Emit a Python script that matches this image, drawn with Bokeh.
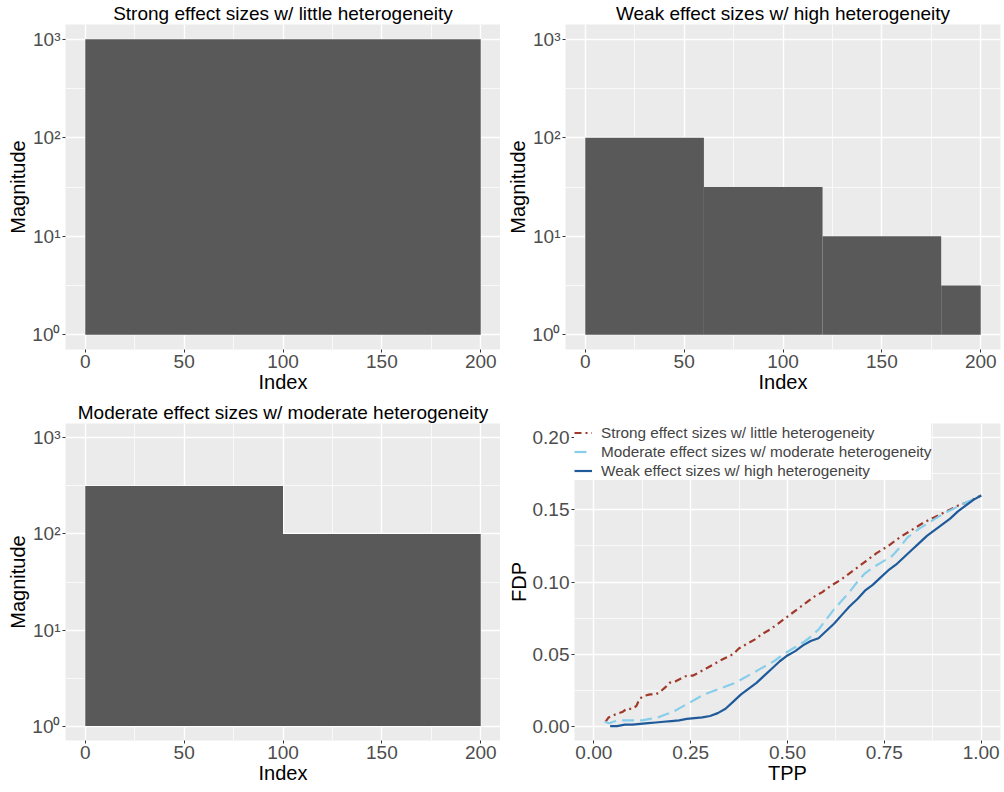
from bokeh.plotting import figure
from bokeh.layouts import column, row
from bokeh.models import Range1d, FixedTicker, ColumnDataSource, NumeralTickFormatter
from bokeh.embed import file_html
from bokeh.resources import INLINE

FONT = "Liberation Sans"
BAR_COLOR = "#595959"
BG = "#EBEBEB"

# ---------------- data ----------------
titles = [
    "Strong effect sizes w/ little heterogeneity",
    "Weak effect sizes w/ high heterogeneity",
    "Moderate effect sizes w/ moderate heterogeneity",
]

strong_left = [0]
strong_right = [200]
strong_mag = [1000]

weak_left = [0, 60, 120, 180]
weak_right = [60, 120, 180, 200]
weak_mag = [100, 31.6, 10, 3.16]

moderate_left = [0, 100]
moderate_right = [100, 200]
moderate_mag = [316, 100]

mag_ticks = [1, 10, 100, 1000]
mag_labels = ["10⁰", "10¹", "10²", "10³"]
index_ticks = [0, 50, 100, 150, 200]

strong_tpp = [0.030, 0.038, 0.046, 0.055, 0.065, 0.075, 0.085, 0.100, 0.110, 0.118,
              0.130, 0.145, 0.160, 0.172, 0.185, 0.195, 0.210, 0.225, 0.240, 0.255,
              0.270, 0.290, 0.310, 0.330, 0.345, 0.360, 0.375, 0.395, 0.415, 0.435,
              0.455, 0.475, 0.500, 0.525, 0.550, 0.570, 0.590, 0.610, 0.640, 0.670,
              0.700, 0.730, 0.760, 0.790, 0.820, 0.850, 0.880, 0.910, 0.940, 0.970, 1.000]
strong_fdp = [0.003, 0.006, 0.007, 0.008, 0.009, 0.010, 0.012, 0.012, 0.014, 0.019,
              0.021, 0.022, 0.022, 0.024, 0.027, 0.030, 0.031, 0.033, 0.035, 0.035,
              0.037, 0.040, 0.043, 0.046, 0.048, 0.050, 0.054, 0.057, 0.060, 0.064,
              0.067, 0.071, 0.076, 0.081, 0.086, 0.090, 0.093, 0.097, 0.102, 0.108,
              0.114, 0.120, 0.125, 0.131, 0.136, 0.141, 0.145, 0.149, 0.153, 0.156, 0.160]

moderate_tpp = [0.028, 0.040, 0.050, 0.065, 0.085, 0.105, 0.125, 0.145, 0.165, 0.185,
                0.205, 0.225, 0.245, 0.265, 0.285, 0.305, 0.325, 0.345, 0.365, 0.385,
                0.405, 0.425, 0.445, 0.465, 0.490, 0.515, 0.540, 0.560, 0.580, 0.600,
                0.620, 0.640, 0.660, 0.680, 0.700, 0.720, 0.745, 0.770, 0.790, 0.810,
                0.840, 0.870, 0.900, 0.930, 0.960, 1.000]
moderate_fdp = [0.003, 0.002, 0.003, 0.004, 0.004, 0.004, 0.004, 0.005, 0.006, 0.008,
                0.010, 0.013, 0.016, 0.019, 0.022, 0.024, 0.026, 0.028, 0.030, 0.033,
                0.036, 0.039, 0.042, 0.045, 0.050, 0.054, 0.058, 0.062, 0.067, 0.074,
                0.081, 0.087, 0.093, 0.100, 0.106, 0.110, 0.114, 0.118, 0.124, 0.131,
                0.137, 0.142, 0.147, 0.151, 0.155, 0.160]

weak_tpp = [0.042, 0.060, 0.080, 0.100, 0.120, 0.140, 0.160, 0.180, 0.200, 0.220,
            0.240, 0.260, 0.280, 0.300, 0.320, 0.340, 0.360, 0.380, 0.400, 0.420,
            0.440, 0.460, 0.480, 0.500, 0.520, 0.540, 0.560, 0.580, 0.600, 0.620,
            0.640, 0.660, 0.680, 0.700, 0.720, 0.740, 0.760, 0.780, 0.800, 0.820,
            0.840, 0.860, 0.880, 0.900, 0.920, 0.940, 0.960, 0.980, 1.000]
weak_fdp = [0.000, 0.000, 0.001, 0.001, 0.0015, 0.002, 0.0025, 0.003, 0.0035, 0.004,
            0.005, 0.0055, 0.006, 0.007, 0.009, 0.012, 0.017, 0.022, 0.026, 0.030,
            0.035, 0.040, 0.045, 0.049, 0.052, 0.056, 0.059, 0.061, 0.066, 0.071,
            0.077, 0.083, 0.088, 0.094, 0.098, 0.103, 0.108, 0.112, 0.117, 0.122,
            0.127, 0.132, 0.136, 0.140, 0.144, 0.149, 0.153, 0.157, 0.160]

tpp_ticks = [0.0, 0.25, 0.5, 0.75, 1.0]
fdp_ticks = [0.0, 0.05, 0.10, 0.15, 0.20]


def style(p, ylabel, xlabel):
    p.background_fill_color = BG
    p.border_fill_color = "white"
    p.outline_line_color = None
    p.title.text_font = FONT
    p.title.text_font_size = "19px"
    p.title.text_font_style = "normal"
    p.title.align = "center"
    p.title.text_color = "black"
    p.title.standoff = 1
    for ax in (p.xaxis, p.yaxis):
        ax.axis_line_color = None
        ax.major_tick_line_color = "#333333"
        ax.major_tick_out = 3
        ax.major_tick_in = 0
        ax.minor_tick_line_color = None
        ax.major_label_text_font = FONT
        ax.major_label_text_font_size = "19px"
        ax.major_label_text_color = "#4D4D4D"
        ax.major_label_standoff = 1
        ax.axis_label_text_font = FONT
        ax.axis_label_text_font_size = "20px"
        ax.axis_label_text_font_style = "normal"
        ax.axis_label_text_color = "black"
        ax.axis_label_standoff = 0
    p.xaxis.axis_label = xlabel
    p.yaxis.axis_label = ylabel
    for g in (p.xgrid, p.ygrid):
        g.grid_line_color = "white"
        g.grid_line_width = 1.4
        g.minor_grid_line_color = "white"
        g.minor_grid_line_width = 0.7


def mag_panel(title, left, right, mag, w, h, top_border, right_border):
    p = figure(width=w, height=h, output_backend="svg",
               toolbar_location=None, y_axis_type="log", x_range=Range1d(-10, 210),
               y_range=Range1d(10 ** -0.15, 10 ** 3.15), title=title,
               min_border_left=65, min_border_right=right_border,
               min_border_top=top_border, min_border_bottom=50)
    style(p, "Magnitude", "Index")
    src = ColumnDataSource(dict(left=left, right=right, top=mag, bottom=[1] * len(mag)))
    p.quad(left="left", right="right", top="top", bottom="bottom", source=src,
           fill_color=BAR_COLOR, line_color=None)
    yt = FixedTicker(ticks=mag_ticks, minor_ticks=[10 ** 0.5, 10 ** 1.5, 10 ** 2.5])
    xt = FixedTicker(ticks=index_ticks, minor_ticks=[25, 75, 125, 175])
    p.yaxis.ticker = yt
    p.ygrid.ticker = yt
    p.xaxis.ticker = xt
    p.xgrid.ticker = xt
    p.yaxis.major_label_overrides = {t: l for t, l in zip(mag_ticks, mag_labels)}
    return p


p1 = mag_panel(titles[0], strong_left, strong_right, strong_mag, 500, 399, 22, 0)
p2 = mag_panel(titles[1], weak_left, weak_right, weak_mag, 502, 399, 22, 2)
p3 = mag_panel(titles[2], moderate_left, moderate_right, moderate_mag, 500, 391, 24, 0)

p4 = figure(width=502, height=391, output_backend="svg", toolbar_location=None,
            x_range=Range1d(-0.05, 1.05), y_range=Range1d(-0.01, 0.21), title="",
            min_border_left=74, min_border_right=2, min_border_top=24, min_border_bottom=50)
style(p4, "FDP", "TPP")
xt4 = FixedTicker(ticks=tpp_ticks, minor_ticks=[0.125, 0.375, 0.625, 0.875])
yt4 = FixedTicker(ticks=fdp_ticks, minor_ticks=[0.025, 0.075, 0.125, 0.175])
p4.xaxis.ticker = xt4
p4.xgrid.ticker = xt4
p4.yaxis.ticker = yt4
p4.ygrid.ticker = yt4
p4.xaxis.formatter = NumeralTickFormatter(format="0.00")
p4.yaxis.formatter = NumeralTickFormatter(format="0.00")

p4.line(strong_tpp, strong_fdp, line_color="#A0392A", line_width=2.2,
        line_dash="7 4 2 4", legend_label=titles[0])
p4.line(moderate_tpp, moderate_fdp, line_color="#87CEEB", line_width=2.2,
        line_dash="12 6", legend_label=titles[2])
p4.line(weak_tpp, weak_fdp, line_color="#1F5A9A", line_width=2.2,
        legend_label=titles[1])

lg = p4.legend[0]
lg.location = "top_left"
lg.background_fill_color = "white"
lg.background_fill_alpha = 1
lg.border_line_color = None
lg.label_text_font = FONT
lg.label_text_font_size = "15.3px"
lg.margin = 0
lg.padding = 6
lg.spacing = 0
lg.glyph_width = 18
lg.glyph_height = 19
lg.label_height = 19
lg.label_standoff = 9

layout = column(row(p1, p2), row(p3, p4))

open("out.html", "w").write(file_html(layout, INLINE))
